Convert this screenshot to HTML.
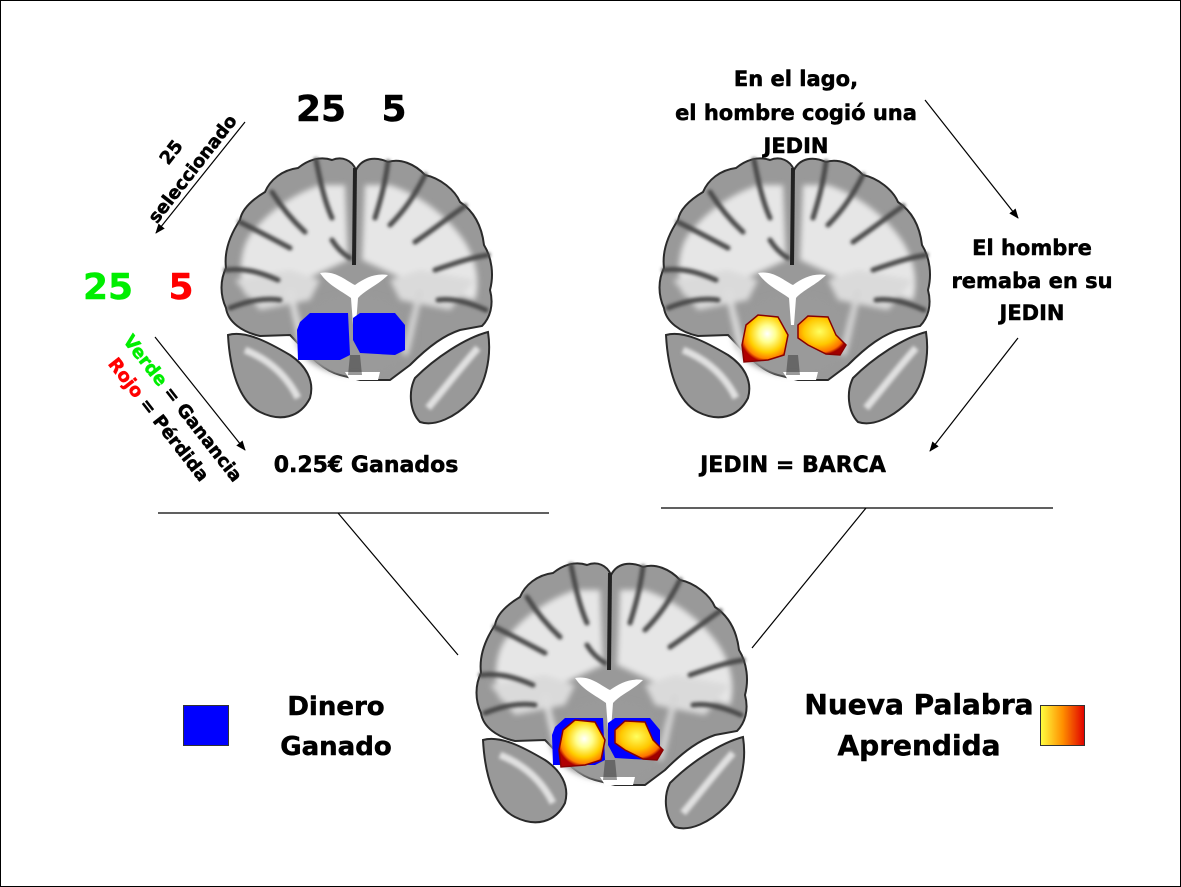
<!DOCTYPE html>
<html><head><meta charset="utf-8"><style>
html,body{margin:0;padding:0;background:#fff}
svg{display:block}
text{font-family:"DejaVu Sans","Liberation Sans",sans-serif;font-weight:bold;stroke-width:0.5px;stroke-linejoin:round}
</style></head><body>
<svg width="1181" height="887" viewBox="0 0 1181 887" xmlns="http://www.w3.org/2000/svg">
<defs>
<filter id="bl" x="-10%" y="-10%" width="120%" height="120%"><feGaussianBlur stdDeviation="3"/></filter>
<filter id="bl2" x="-10%" y="-10%" width="120%" height="120%"><feGaussianBlur stdDeviation="1.5"/></filter>
<radialGradient id="fire1" cx="55%" cy="40%" r="60%">
<stop offset="0" stop-color="#ffffff"/><stop offset="0.3" stop-color="#ffff90"/><stop offset="0.65" stop-color="#ffd000"/><stop offset="0.88" stop-color="#ff8000"/><stop offset="1" stop-color="#b00000"/>
</radialGradient>
<radialGradient id="fire2" cx="45%" cy="40%" r="60%">
<stop offset="0" stop-color="#ffff60"/><stop offset="0.55" stop-color="#ffc800"/><stop offset="0.88" stop-color="#ff7000"/><stop offset="1" stop-color="#a00000"/>
</radialGradient>
<linearGradient id="leg" x1="0" y1="0" x2="1" y2="0">
<stop offset="0" stop-color="#ffff40"/><stop offset="0.5" stop-color="#ff9000"/><stop offset="1" stop-color="#e00000"/>
</linearGradient>
<marker id="ah" markerWidth="10" markerHeight="10" refX="9" refY="5" orient="auto" markerUnits="userSpaceOnUse">
<path d="M0,1 L10,5 L0,9 Z" fill="#000"/></marker>
<g id="brain">
<path d="M20,80 C22,68 35,58 45,52 C50,40 62,30 78,28 C88,20 100,16 112,20 C122,16 132,20 136,30 C142,18 155,16 168,22 C180,18 195,24 205,35 C220,38 235,50 240,62 C255,72 262,88 264,105 C272,118 274,135 270,150 C274,165 270,178 262,186 L240,190 C225,195 210,205 190,225 L170,240 L140,240 L120,235 C100,230 85,210 70,195 L40,196 C22,192 8,182 6,168 C0,155 0,140 6,128 C4,112 10,95 20,80 Z" fill="#999" stroke="#2a2a2a" stroke-width="2"/>
<g filter="url(#bl)">
<path d="M30,95 C45,75 70,55 100,45 L125,45 L128,120 L95,135 L60,150 L25,155 C18,135 20,110 30,95 Z" fill="#e6e6e6"/>
<path d="M240,95 C225,75 200,55 170,45 L145,45 L142,120 L175,135 L210,150 L255,160 C262,135 252,110 240,95 Z" fill="#e6e6e6"/>
<path d="M15,140 L70,130 L100,140 L90,160 L40,170 Z M255,140 L200,130 L170,140 L180,160 L230,170 Z" fill="#dadada"/>
<ellipse cx="135" cy="195" rx="60" ry="40" fill="#9a9a9a"/>
<path d="M70,150 C75,175 80,195 85,215" stroke="#dedede" stroke-width="6" fill="none"/>
<path d="M200,150 C195,175 190,195 185,215" stroke="#d6d6d6" stroke-width="6" fill="none"/>
</g>
<g filter="url(#bl2)" stroke="#4a4a4a" stroke-width="5" fill="none" stroke-linecap="round">
<path d="M52,52 C62,68 72,80 85,92"/>
<path d="M96,20 C100,40 104,60 112,78"/>
<path d="M20,82 C40,92 55,100 70,108"/>
<path d="M6,130 C25,128 40,132 58,140"/>
<path d="M10,168 C30,160 45,158 60,160"/>
<path d="M205,35 C195,55 185,70 170,85"/>
<path d="M168,22 C165,45 160,62 155,78"/>
<path d="M245,66 C225,80 210,92 195,102"/>
<path d="M268,115 C248,118 230,125 215,130"/>
<path d="M266,170 C248,162 232,158 218,160"/>
<path d="M112,100 C118,110 125,115 130,118"/>
</g>
<path d="M135,28 L134,125" stroke="#222" stroke-width="4"/>
<path d="M8,195 C25,190 48,202 70,215 C85,225 95,240 90,258 C80,278 60,282 40,272 C20,262 10,232 8,195 Z" fill="#999" stroke="#2a2a2a" stroke-width="2"/>
<path d="M195,238 C215,218 245,198 268,192 C272,218 265,248 250,262 C235,277 215,287 200,282 C190,272 188,252 195,238 Z" fill="#999" stroke="#2a2a2a" stroke-width="2"/>
<g filter="url(#bl2)">
<path d="M25,210 C45,218 65,232 78,258" stroke="#e0e0e0" stroke-width="7" fill="none"/>
<path d="M258,208 C240,228 225,248 208,268" stroke="#e0e0e0" stroke-width="7" fill="none"/>
</g>
<path d="M100,133 C115,130 125,140 135,145 C145,138 155,133 168,135 C158,145 145,150 138,158 L136,185 L133,185 L131,158 C120,150 108,145 100,133 Z" fill="#fff"/>
<path d="M125,232 L160,232 L158,240 L130,240 Z" fill="#fff"/>
<path d="M130,215 L140,215 L142,235 L128,235 Z" fill="#333" opacity="0.5"/>
</g>
</defs>
<rect x="0.5" y="0.5" width="1180" height="886" fill="#fff" stroke="#000"/>

<g transform="translate(220,140)">
<use href="#brain"/>
<path d="M80,182 L90,173 L128,173 L130,215 L120,220 L78,220 L77,190 Z" fill="#0000ff"/>
<path d="M133,178 L140,173 L175,173 L185,185 L185,210 L175,215 L140,213 L133,200 Z" fill="#0000ff"/>
</g>
<g transform="translate(658,140)">
<use href="#brain"/>
<path d="M88,185 L100,175 L120,177 L130,195 L126,215 L110,220 L86,222 L84,205 Z" fill="url(#fire1)" stroke="#800" stroke-width="1.5"/>
<path d="M140,185 L150,176 L170,177 L178,195 L188,205 L182,215 L168,214 L150,205 L140,198 Z" fill="url(#fire2)" stroke="#800" stroke-width="1.5"/>
</g>
<g transform="translate(475,545)">
<use href="#brain"/>
<path d="M80,182 L90,173 L128,173 L130,215 L120,220 L78,220 L77,190 Z" fill="#0000ff"/>
<path d="M133,178 L140,173 L175,173 L185,185 L185,210 L175,215 L140,213 L133,200 Z" fill="#0000ff"/>
<path d="M88,185 L100,175 L120,177 L130,195 L126,215 L110,220 L86,222 L84,205 Z" fill="url(#fire1)" stroke="#800" stroke-width="1.5"/>
<path d="M140,185 L150,176 L170,177 L178,195 L188,205 L182,215 L168,214 L150,205 L140,198 Z" fill="url(#fire2)" stroke="#800" stroke-width="1.5"/>
</g>

<text x="321" y="121" font-size="36" text-anchor="middle" fill="#000" stroke="#000">25</text>
<text x="394" y="121" font-size="36" text-anchor="middle" fill="#000" stroke="#000">5</text>
<text x="108" y="299" font-size="36" text-anchor="middle" fill="#00ee00" stroke="#00ee00">25</text>
<text x="181" y="299" font-size="36" text-anchor="middle" fill="#ff0000" stroke="#ff0000">5</text>
<g transform="translate(176,156) rotate(-52)">
<text x="0" y="0" font-size="18" text-anchor="middle" fill="#000" stroke="#000">25</text>
<text x="0" y="27" font-size="18" text-anchor="middle" fill="#000" stroke="#000">seleccionado</text>
</g>
<line x1="245" y1="122" x2="156" y2="233" stroke="#000" stroke-width="1.2" marker-end="url(#ah)"/>
<line x1="155" y1="337" x2="245" y2="450" stroke="#000" stroke-width="1.2" marker-end="url(#ah)"/>
<g transform="translate(178,412) rotate(52)">
<text x="0" y="0" font-size="18" text-anchor="middle" fill="#000" stroke="#000"><tspan fill="#00ee00" stroke="#00ee00">Verde</tspan> = Ganancia</text>
<text x="-6" y="26" font-size="18" text-anchor="middle" fill="#000" stroke="#000"><tspan fill="#ff0000" stroke="#ff0000">Rojo</tspan> = Pérdida</text>
</g>
<text x="366" y="472" font-size="22" text-anchor="middle" fill="#000" stroke="#000">0.25€ Ganados</text>

<g font-size="21" text-anchor="middle" fill="#000" stroke="#000">
<text x="796" y="86">En el lago,</text>
<text x="796" y="120">el hombre cogió una</text>
<text x="796" y="153">JEDIN</text>
<text x="1032" y="255">El hombre</text>
<text x="1032" y="288">remaba en su</text>
<text x="1032" y="320">JEDIN</text>
</g>
<text x="793" y="472" font-size="22" text-anchor="middle" fill="#000" stroke="#000">JEDIN = BARCA</text>
<line x1="925" y1="100" x2="1018" y2="218" stroke="#000" stroke-width="1.2" marker-end="url(#ah)"/>
<line x1="1018" y1="338" x2="930" y2="451" stroke="#000" stroke-width="1.2" marker-end="url(#ah)"/>

<line x1="158" y1="513" x2="549" y2="513" stroke="#000" stroke-width="1.2"/>
<line x1="661" y1="508" x2="1053" y2="508" stroke="#000" stroke-width="1.2"/>
<line x1="338" y1="513" x2="458" y2="655" stroke="#000" stroke-width="1.2"/>
<line x1="866" y1="508" x2="752" y2="648" stroke="#000" stroke-width="1.2"/>

<rect x="183.5" y="705.5" width="45" height="40" fill="#0000ff" stroke="#333"/>
<text x="336" y="715" font-size="26" text-anchor="middle" fill="#000" stroke="#000">Dinero</text>
<text x="336" y="755" font-size="26" text-anchor="middle" fill="#000" stroke="#000">Ganado</text>
<text x="919" y="714" font-size="28" text-anchor="middle" fill="#000" stroke="#000">Nueva Palabra</text>
<text x="919" y="755" font-size="28" text-anchor="middle" fill="#000" stroke="#000">Aprendida</text>
<rect x="1040.5" y="705.5" width="44" height="40" fill="url(#leg)" stroke="#333"/>
</svg>
</body></html>
